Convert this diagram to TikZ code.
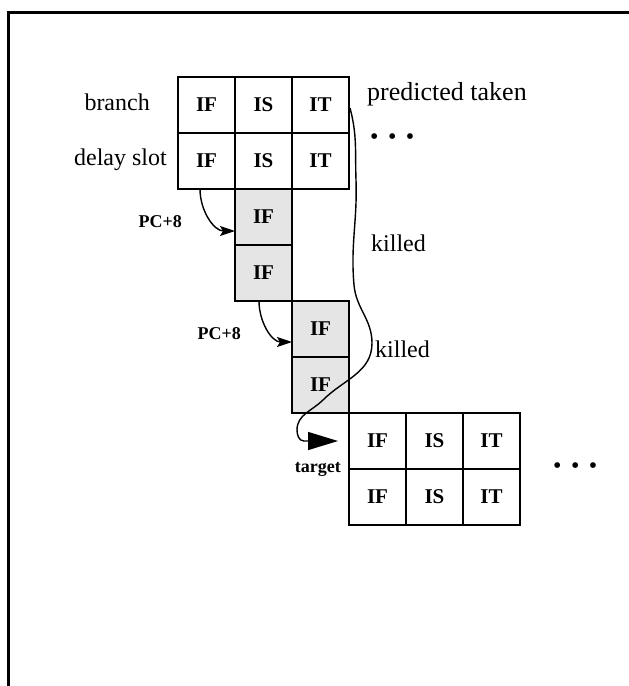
\documentclass[tikz,border=0pt]{standalone}
\usepackage{fontspec}
\setmainfont{Liberation Serif}
\usetikzlibrary{positioning,arrows.meta}

\begin{document}
\begin{tikzpicture}[x=1pt, y=1pt,
  stage/.style = {draw, line width=1.6pt, minimum width=57pt, minimum height=56pt, inner sep=0pt, outer sep=0pt, font=\fontsize{21}{24}\selectfont\bfseries},
  killedstage/.style = {stage, fill=gray!20},
  note/.style = {inner sep=0pt, font=\fontsize{24}{28}\selectfont},
  pcnote/.style = {inner sep=0pt, font=\fontsize{18}{21}\selectfont\bfseries},
  pcarrow/.style = {line width=1.4pt, -{Stealth[length=15pt,width=10pt,inset=3pt]}},
  killarrow/.style = {line width=1.4pt, -{Triangle[length=30pt,width=18pt]}}]
\useasboundingbox (0,0) rectangle (629,-686);
\draw[line width=2.8pt] (8.3,-686) -- (8.3,-12.7) -- (629,-12.7);

% branch and delay slot
\node[stage] (b1) at (206.5,-105) {IF};
\node[stage] (b2) [right=0pt of b1] {IS};
\node[stage] (b3) [right=0pt of b2] {IT};
\node[stage] (d1) [below=0pt of b1] {IF};
\node[stage] (d2) [below=0pt of b2] {IS};
\node[stage] (d3) [below=0pt of b3] {IT};
% killed fetches
\node[killedstage] (k1) [below=0pt of d2] {IF};
\node[killedstage] (k2) [below=0pt of k1] {IF};
\node[killedstage] (k3) [below right=0pt and 0pt of k2] {IF};
\node[killedstage] (k4) [below=0pt of k3] {IF};
% target
\node[stage] (t1) [below right=0pt and 0pt of k4] {IF};
\node[stage] (t2) [right=0pt of t1] {IS};
\node[stage] (t3) [right=0pt of t2] {IT};
\node[stage] (u1) [below=0pt of t1] {IF};
\node[stage] (u2) [below=0pt of t2] {IS};
\node[stage] (u3) [below=0pt of t3] {IT};

\node[note, anchor=base east] (lbranch) at ([xshift=-28pt,yshift=-5pt]b1.west) {branch};
\node[note, anchor=base east] (ldelay) at ([xshift=-11pt,yshift=-4pt]d1.west) {delay slot};
\node[note, anchor=base west, font=\fontsize{26}{30}\selectfont] (ltaken) at ([xshift=18pt,yshift=5pt]b3.east) {predicted taken};
\node[note, anchor=base west] (dots1) at ([xshift=21pt,yshift=-11pt]b3.south east) {\textbullet\hspace{9.5pt}\textbullet\hspace{9.5pt}\textbullet};
\node[note, anchor=base west] (dots2) at ([xshift=33pt,yshift=-4pt]t3.south east) {\textbullet\hspace{9.5pt}\textbullet\hspace{9.5pt}\textbullet};
\node[note, anchor=base west] (lkill1) at ([xshift=79pt,yshift=-6pt]k2.north east) {killed};
\node[note, anchor=base west] (lkill2) at ([xshift=26pt]k4.north east) {killed};
\node[pcnote, anchor=base east] (lpc1) at ([xshift=-53pt,yshift=-10pt]k1.west) {PC+8};
\node[pcnote, anchor=base east] (lpc2) at ([xshift=-51pt,yshift=-10pt]k3.west) {PC+8};
\node[pcnote, anchor=base east] (ltarget) at ([xshift=-8pt,yshift=-3pt]t1.south west) {target};

\draw[pcarrow] ([xshift=-35pt]d1.south east) to[out=-90,in=180] ([yshift=-14pt]k1.west);
\draw[pcarrow] ([xshift=-33pt]k2.south east) to[out=-90,in=180] ([yshift=-13pt]k3.west);
\draw[killarrow] ([xshift=1pt,yshift=-3pt]b3.east) to[out=-75,in=92] (356,-180)
  to[out=-88,in=95] (354,-285) to[out=-85,in=90] (372,-343)
  to[out=-90,in=45] (323,-400) to[out=-135,in=90] (297,-430)
  to[out=-90,in=180] (304,-441) -- ([xshift=-11pt]t1.west);
\end{tikzpicture}
\end{document}
